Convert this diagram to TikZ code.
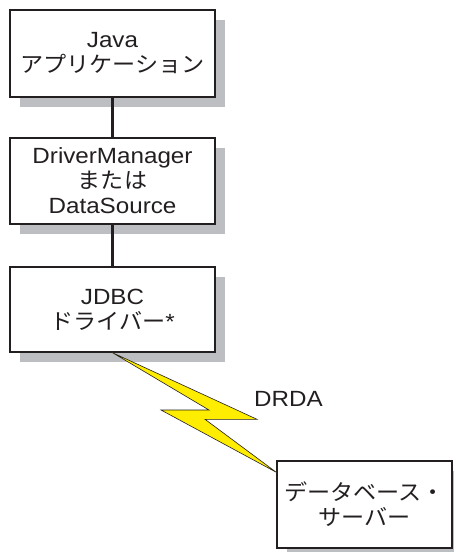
\documentclass[tikz,border=0pt]{standalone}
\usepackage{fontspec}
\setmainfont{Liberation Sans}[FakeStretch=1.1]
\newfontfamily\jp{Noto Sans CJK JP}[FakeStretch=1.05]
\usetikzlibrary{shadows}
\definecolor{ink}{RGB}{35,31,32}
\definecolor{shadowgray}{RGB}{189,190,193}
\definecolor{boltyellow}{RGB}{255,237,0}
\begin{document}
\begin{tikzpicture}[x=1pt,y=-1pt,
  box/.style={draw=ink, line width=1.4pt, fill=white, align=center, text=ink,
    inner sep=0pt, font=\fontsize{22}{25}\selectfont,
    drop shadow={shadow xshift=10pt, shadow yshift=-10pt, fill=shadowgray, opacity=1}},
  conn/.style={draw=ink, line width=2.2pt},
  bolt/.style={draw=ink, line width=0.6pt, fill=boltyellow, line join=miter},
  lbl/.style={text=ink, inner sep=0pt, font=\fontsize{22}{25}\selectfont}]
\useasboundingbox (0,0) rectangle (453,552);
\node[box, minimum width=205pt, minimum height=87pt] (b1) at (112.5,53.5) {Java\\{\jp アプリケーション}};
\node[box, minimum width=205pt, minimum height=86pt] (b2) at (112.5,181) {DriverManager\\{\jp または}\\DataSource};
\node[box, minimum width=205pt, minimum height=85pt] (b3) at (112.5,309.5) {JDBC\\{\jp ドライバー}*};
\node[box, minimum width=175pt, minimum height=87pt] (b4) at (364.5,504.5) {{\jp データベース・}\\{\jp サーバー}};
\draw[conn] (b1.south) -- (b2.north);
\draw[conn] (b2.south) -- (b3.north);
\draw[bolt] (b3.south) -- (209,410) -- (161,410) -- ([yshift=-12pt]b4.north west) -- (205,419.3) -- (257,419.3) -- cycle;
\node[lbl, anchor=base] (drda) at (288.5,406) {DRDA};
\end{tikzpicture}
\end{document}
